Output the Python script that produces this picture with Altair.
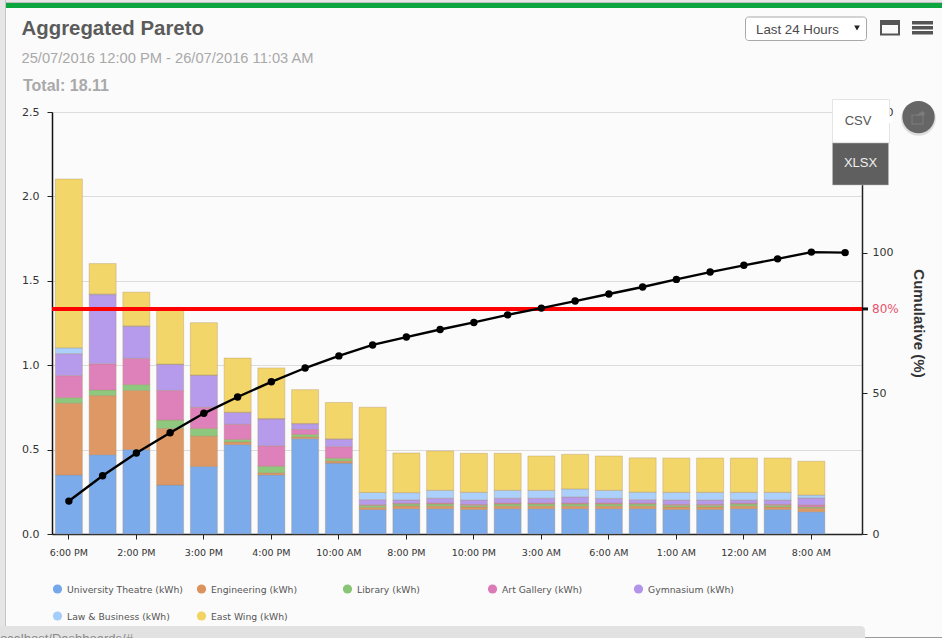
import altair as alt
import pandas as pd

# Hourly categories of the reporting window, in Pareto order
hours = ["6:00 PM", "1:00 PM", "2:00 PM", "12:00 PM", "3:00 PM", "5:00 PM", "4:00 PM", "7:00 PM",
         "10:00 AM", "9:00 AM", "8:00 PM", "9:00 PM", "10:00 PM", "11:00 PM", "3:00 AM", "2:00 AM",
         "6:00 AM", "4:00 AM", "1:00 AM", "5:00 AM", "12:00 AM", "7:00 AM", "8:00 AM", "11:00 AM"]
shown_hours = hours[0:24:2]

series_names = ["University Theatre (kWh)", "Engineering (kWh)", "Library (kWh)", "Art Gallery (kWh)",
                "Gymnasium (kWh)", "Law & Business (kWh)", "East Wing (kWh)"]
series_colors = ["#75a7eb", "#dc925d", "#88c577", "#dc7ab7", "#b295eb", "#a5cdfb", "#f2d462"]

university = [.35, .47, .50, .29, .40, .53, .35, .565, .42, .145, .15, .15, .146, .15, .15, .15, .15, .15, .146, .146, .15, .146, .132]
engineering = [.425, .35, .35, .335, .18, .015, .012, .01, .012, .012, .016, .015, .014, .015, .015, .015, .015, .015, .014, .014, .015, .014, .02]
library = [.033, .033, .035, .05, .045, .015, .04, .015, .017, .013, .012, .013, .01, .013, .013, .013, .013, .013, .01, .01, .013, .01, .008]
art_gallery = [.13, .155, .155, .175, .125, .09, .12, .03, .068, .003, .004, .006, .005, .006, .006, .006, .006, .005, .005, .005, .005, .005, .012]
gymnasium = [.13, .41, .19, .155, .19, .07, .16, .033, .045, .03, .02, .028, .026, .028, .028, .035, .027, .02, .026, .026, .018, .026, .041]
law_business = [.035, .004, .003, .002, .002, .002, .002, .002, .002, .043, .043, .047, .046, .047, .047, .048, .048, .045, .046, .046, .046, .046, .018]
east_wing = [1.0, .18, .20, .325, .31, .32, .30, .20, .215, .505, .235, .233, .231, .219, .203, .205, .203, .203, .203, .203, .203, .203, .20]
series_values = [university, engineering, library, art_gallery, gymnasium, law_business, east_wing]

cumulative = [11.7, 20.7, 28.8, 36.0, 42.9, 48.7, 54.1, 59.0, 63.3, 67.2, 70.0, 72.7,
              75.2, 77.9, 80.3, 82.8, 85.3, 87.8, 90.5, 93.1, 95.5, 97.8, 100.2, 100.0]

threshold = 80
left_ticks = [0.0, 0.5, 1.0, 1.5, 2.0, 2.5]
right_ticks = [0, 50, 100, 150]

PLOT_LEFT, PLOT_TOP = 52, 112
AXIS_FONT = "DejaVu Sans"
UI_FONT = "Liberation Sans"

bars = pd.DataFrame([
    {"hour": hours[i], "series": name, "rank": k, "kwh": v}
    for k, (name, vals) in enumerate(zip(series_names, series_values))
    for i, v in enumerate(vals)
])
pareto = pd.DataFrame({"hour": hours, "pct": cumulative})
one = pd.DataFrame({"a": [0]})

x_band = alt.Scale(domain=hours, paddingInner=0.2, paddingOuter=0.1)
x_axis = alt.Axis(values=shown_hours, title=None, labelAngle=0, labelFont=AXIS_FONT, labelFontSize=9.5,
                  labelColor="#333333", tickColor="#222222", domainColor="#222222", domainWidth=1.5,
                  tickSize=5, labelPadding=8, grid=False, labelOverlap=False)
x_enc = alt.X("hour:N", scale=x_band, axis=x_axis)
pct_scale = alt.Scale(domain=[0, 150], nice=False)


def px(v):
    return alt.value(v - PLOT_LEFT)


def py(v):
    return alt.value(v - PLOT_TOP)


def box(x0, y0, x1, y1, fill, **kw):
    return alt.Chart(one).mark_rect(fill=fill, **kw).encode(x=px(x0), x2=px(x1), y=py(y0), y2=py(y1))


def label(x0, y0, text, size, color, font=UI_FONT, weight="normal", align="left"):
    return alt.Chart(one).mark_text(text=text, fontSize=size, color=color, font=font, fontWeight=weight,
                                    align=align, baseline="alphabetic").encode(x=px(x0), y=py(y0))


def glyph(x0, y0, shape, size, fill, **kw):
    return alt.Chart(one).mark_point(shape=shape, size=size, fill=fill, filled=True, stroke=None, opacity=1, **kw).encode(
        x=px(x0), y=py(y0))


# Stacked consumption per hour against the left axis
bar_layer = alt.Chart(bars).mark_bar(stroke="#a88a66", strokeWidth=1, strokeOpacity=0.35, fillOpacity=0.95).encode(
    x=x_enc,
    y=alt.Y("kwh:Q", stack="zero",
            scale=alt.Scale(domain=[0, 2.5], nice=False),
            axis=alt.Axis(values=left_ticks, format=".1f", title=None, grid=True, gridColor="#dcdcdc",
                          labelFont=AXIS_FONT, labelFontSize=11, labelColor="#333333", tickColor="#222222",
                          domainColor="#111111", domainWidth=1.5, tickSize=5, labelPadding=8)),
    color=alt.Color("series:N", scale=alt.Scale(domain=series_names, range=series_colors), legend=None),
    order=alt.Order("rank:Q", sort="ascending"),
)

# 80 % threshold line with its marker on the right axis
threshold_rule = alt.Chart(one).mark_rule(color="#ff0000", strokeWidth=4).encode(
    x=alt.value(0), x2=alt.value(810),
    y=alt.Y(datum=threshold, scale=pct_scale, axis=None))
threshold_tick = alt.Chart(one).mark_rule(color="#111111", strokeWidth=3).encode(
    x=alt.value(810), x2=alt.value(816),
    y=alt.Y(datum=threshold, scale=pct_scale, axis=None))
threshold_text = alt.Chart(one).mark_text(text="80%", align="left", baseline="middle", font=AXIS_FONT, fontSize=12,
                                          color="#e8536b").encode(
    x=alt.value(820), y=alt.Y(datum=threshold, scale=pct_scale, axis=None))

# Cumulative share against the right axis
line_layer = alt.Chart(pareto).mark_line(color="#000000", strokeWidth=2.4).encode(
    x=x_enc,
    y=alt.Y("pct:Q", scale=pct_scale,
            axis=alt.Axis(orient="right", values=right_ticks, title="Cumulative (%)", grid=False,
                          labelFont=AXIS_FONT, labelFontSize=11, labelColor="#333333", tickColor="#222222",
                          domainColor="#222222", domainWidth=1.5, tickSize=5, labelPadding=5,
                          titleFont=UI_FONT, titleFontSize=15, titleFontWeight="bold", titleColor="#333333",
                          titlePadding=18)))
point_layer = alt.Chart(pareto).mark_circle(color="#000000", size=55, opacity=1).encode(
    x=x_enc, y=alt.Y("pct:Q", scale=pct_scale, axis=None))

# Page furniture around the plot
frame = [
    box(0, 0, 5, 638, "#e6e6e6"),
    box(5, 0, 6, 638, "#c4c4c4"),
    box(6, 0, 942, 2, "#e6e6e6"),
    box(6, 2, 942, 3, "#bdbdbd"),
    box(6, 3, 942, 8, "#0ca53f"),
    label(21.5, 35, "Aggregated Pareto", 20.4, "#5b5b5b", weight="bold"),
    label(21.5, 63, "25/07/2016 12:00 PM - 26/07/2016 11:03 AM", 14.7, "#a9a9a9"),
    label(23, 91, "Total: 18.11", 16, "#a9a9a9", weight="bold"),
    box(745.5, 17, 866.5, 40.5, "#ffffff", stroke="#a8a8a8", strokeWidth=1, cornerRadius=3),
    label(756, 34, "Last 24 Hours", 13.3, "#4a4a4a"),
    glyph(857, 28, "triangle-down", 32, "#222222"),
    box(881, 21, 899, 34.5, "#fafafa", stroke="#555555", strokeWidth=2),
    box(880, 20, 900, 25, "#555555"),
    box(912, 21, 933, 24.5, "#555555"),
    box(912, 26, 933, 29.5, "#555555"),
    box(912, 31, 933, 34.5, "#555555"),
    box(832.5, 99.5, 889.5, 143, "#ffffff", stroke="#e4e4e4", strokeWidth=1),
    glyph(891, 120, "triangle-right", 90, "#ffffff"),
    label(858, 125, "CSV", 13, "#555555", align="center"),
    box(832.5, 143, 888.5, 185, "#5f5f5f", stroke="#bdbdbd", strokeWidth=0.5),
    label(860.5, 167, "XLSX", 13, "#efefef", align="center"),
    alt.Chart(one).mark_circle(color="#9a9a9a", size=1200, opacity=0.3).encode(x=px(918.5), y=py(118.5)),
    alt.Chart(one).mark_circle(color="#666666", size=1040, opacity=1).encode(x=px(918.5), y=py(117)),
    box(912, 115, 923, 124, "#666666", stroke="#767676", strokeWidth=1.5),
    glyph(921, 114.5, "M-1 .6C-.7-.3-.2-.6.2-.6V-1L1-.2.2.6V.1C-.3.1-.7.2-1 .6Z", 75, "#7c7c7c"),
    box(0, 626, 865, 638, "#e2e2e2", cornerRadiusTopRight=4),
    label(-3, 643, "localhost/Dashboards/#", 13, "#8a8a8a"),
    box(865, 637, 942, 638, "#9a9a9a"),
]

# Two-row series key below the axis
key_positions = [(57.5, 589), (201.5, 589), (347.5, 589), (492.5, 589), (638.5, 589), (57.5, 616), (201.5, 616)]
key = []
for name, color, (kx, ky) in zip(series_names, series_colors, key_positions):
    key.append(alt.Chart(one).mark_circle(color=color, size=85, opacity=1).encode(x=px(kx), y=py(ky)))
    key.append(label(kx + 9.5, ky + 3.5, name, 9.25, "#555555", font=AXIS_FONT))

chart = alt.layer(
    bar_layer, threshold_rule, threshold_tick, threshold_text, line_layer, point_layer, *frame, *key
).resolve_scale(y="independent").properties(
    width=810, height=422,
    background="#fbfbfb",
    padding={"left": PLOT_LEFT, "top": PLOT_TOP, "right": 80, "bottom": 104},
    autosize=alt.AutoSizeParams(type="none"),
).configure_view(stroke=None)

chart.save("out.html", embed_options={"renderer": "svg", "actions": False})
